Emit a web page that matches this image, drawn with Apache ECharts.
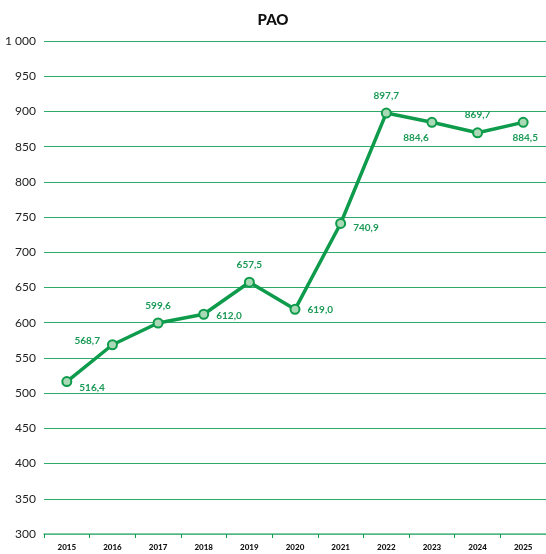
<!DOCTYPE html>
<html>
<head>
<meta charset="utf-8">
<script src="https://cdn.jsdelivr.net/npm/echarts@6/dist/echarts.min.js"></script>
<style>
  html, body { margin: 0; padding: 0; background: #fff; }
  #chart { width: 546px; height: 554px; }
</style>
</head>
<body>
<div id="chart"></div>
<script>
const years = ['2015', '2016', '2017', '2018', '2019', '2020', '2021', '2022', '2023', '2024', '2025'];
const values = [516.4, 568.7, 599.6, 612.0, 657.5, 619.0, 740.9, 897.7, 884.6, 869.7, 884.5];
// where each value label sits relative to its point
const labelPos = ['right', 'left', 'top', 'right', 'top', 'right', 'right', 'top', 'bottom', 'top', 'bottom'];
const labelOffset = [[0, 6], [0, -4], [0, 0], [0, 2], [0, 0], [0, 0], [0, 4], [0, 0], [-16, -2], [0, 0], [2, -2]];

const green = '#0e9b4c';
const fmt = v => v.toFixed(1).replace('.', ',');

const myChart = echarts.init(document.getElementById('chart'));

const chartsOption = {
  title: {
    text: 'PAO',
    left: 'center',
    top: 8,
    textStyle: { fontSize: 15, fontWeight: 900, color: '#111', fontFamily: 'Lato' }
  },
  grid: { top: 41, left: 44, right: 0, bottom: 20 },
  xAxis: {
    type: 'category',
    data: years,
    boundaryGap: true,
    axisLine: { lineStyle: { color: '#5cba8a', width: 1.5 } },
    axisTick: { show: true, length: 4, lineStyle: { color: green } },
    axisLabel: { fontSize: 8, fontWeight: 900, color: '#111', margin: 9, fontFamily: 'Lato' }
  },
  yAxis: {
    type: 'value',
    min: 300,
    max: 1000,
    interval: 50,
    axisLine: { show: false },
    axisTick: { show: false },
    axisLabel: {
      fontSize: 12,
      color: '#222',
      margin: 8,
      fontFamily: 'Lato',
      formatter: v => v >= 1000 ? String(v).replace(/\B(?=(\d{3})+$)/g, ' ') : String(v)
    },
    splitLine: { lineStyle: { color: '#2eab6a', width: 1 } }
  },
  series: [
    {
      type: 'line',
      data: values.map((v, i) => ({
        value: v,
        label: { position: labelPos[i], offset: labelOffset[i] }
      })),
      symbol: 'circle',
      symbolSize: 9,
      lineStyle: { color: green, width: 3.5 },
      itemStyle: { color: '#a9d9b5', borderColor: green, borderWidth: 2 },
      label: {
        show: true,
        fontSize: 10,
        fontWeight: 'bold',
        color: '#1a9a55',
        fontFamily: 'Lato',
        distance: 7,
        formatter: p => fmt(p.value)
      },
      z: 5
    }
  ]
};

myChart.setOption(chartsOption);
</script>
</body>
</html>
